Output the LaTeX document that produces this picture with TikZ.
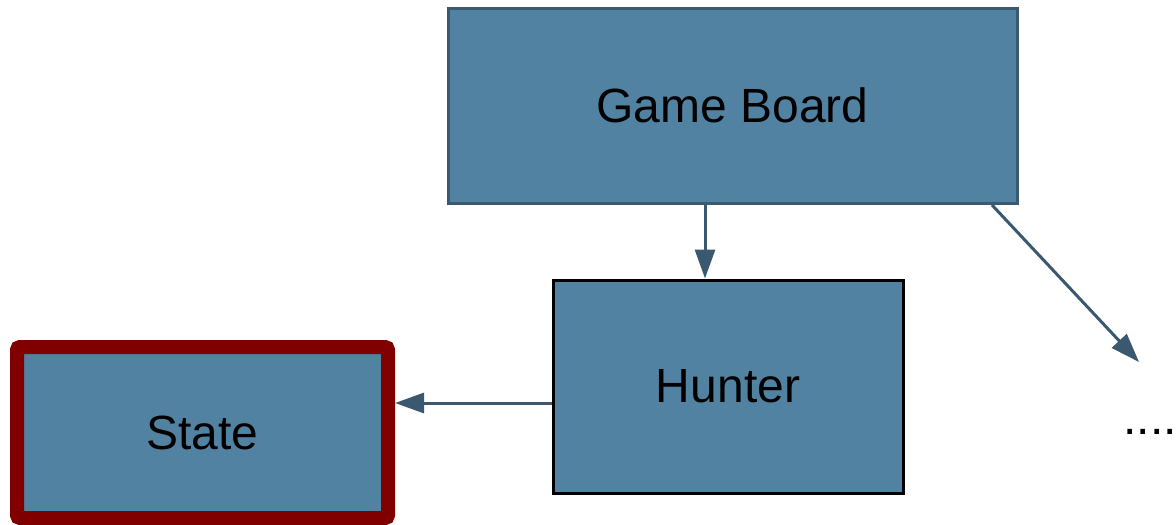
\documentclass[tikz,border=0pt]{standalone}
\usepackage{fontspec}
\setmainfont{Liberation Sans}
\usetikzlibrary{arrows.meta}
\definecolor{boxfill}{HTML}{5282A2}
\definecolor{boxedge}{HTML}{3B5A72}
\definecolor{arrowc}{HTML}{3A5870}
\definecolor{stateedge}{HTML}{800000}
\begin{document}
\begin{tikzpicture}[x=1pt,y=-1pt,
  every node/.style={font=\fontsize{48}{58}\selectfont, inner sep=0pt},
  blk/.style={rectangle, fill=boxfill, anchor=center},
  conn/.style={draw=arrowc, line width=3pt, -{Triangle[length=29pt,width=20pt]}}]
\useasboundingbox (0,0) rectangle (1176,525);
\node[blk, draw=boxedge, line width=3pt, minimum width=569pt, minimum height=195pt] (board) at (732.5,105.5) {Game Board};
\node[blk, draw=black, line width=3pt, minimum width=350pt, minimum height=213pt] (hunter) at (728,386.5) {Hunter};
\node[blk, draw=stateedge, line width=14pt, rounded corners=3pt, minimum width=371pt, minimum height=171pt] (state) at (202.5,432.5) {State};
\node[anchor=base] (dots) at (1150,434) {....};
\coordinate (bstart) at (992,205);
\coordinate (dend) at (1139,362);
\draw[conn] (board.south -| 705,0) -- (hunter.north -| 705,0);
\draw[conn] (hunter.west |- 0,403) -- (state.east |- 0,403);
\draw[conn] (bstart) -- (dend);
\end{tikzpicture}
\end{document}
